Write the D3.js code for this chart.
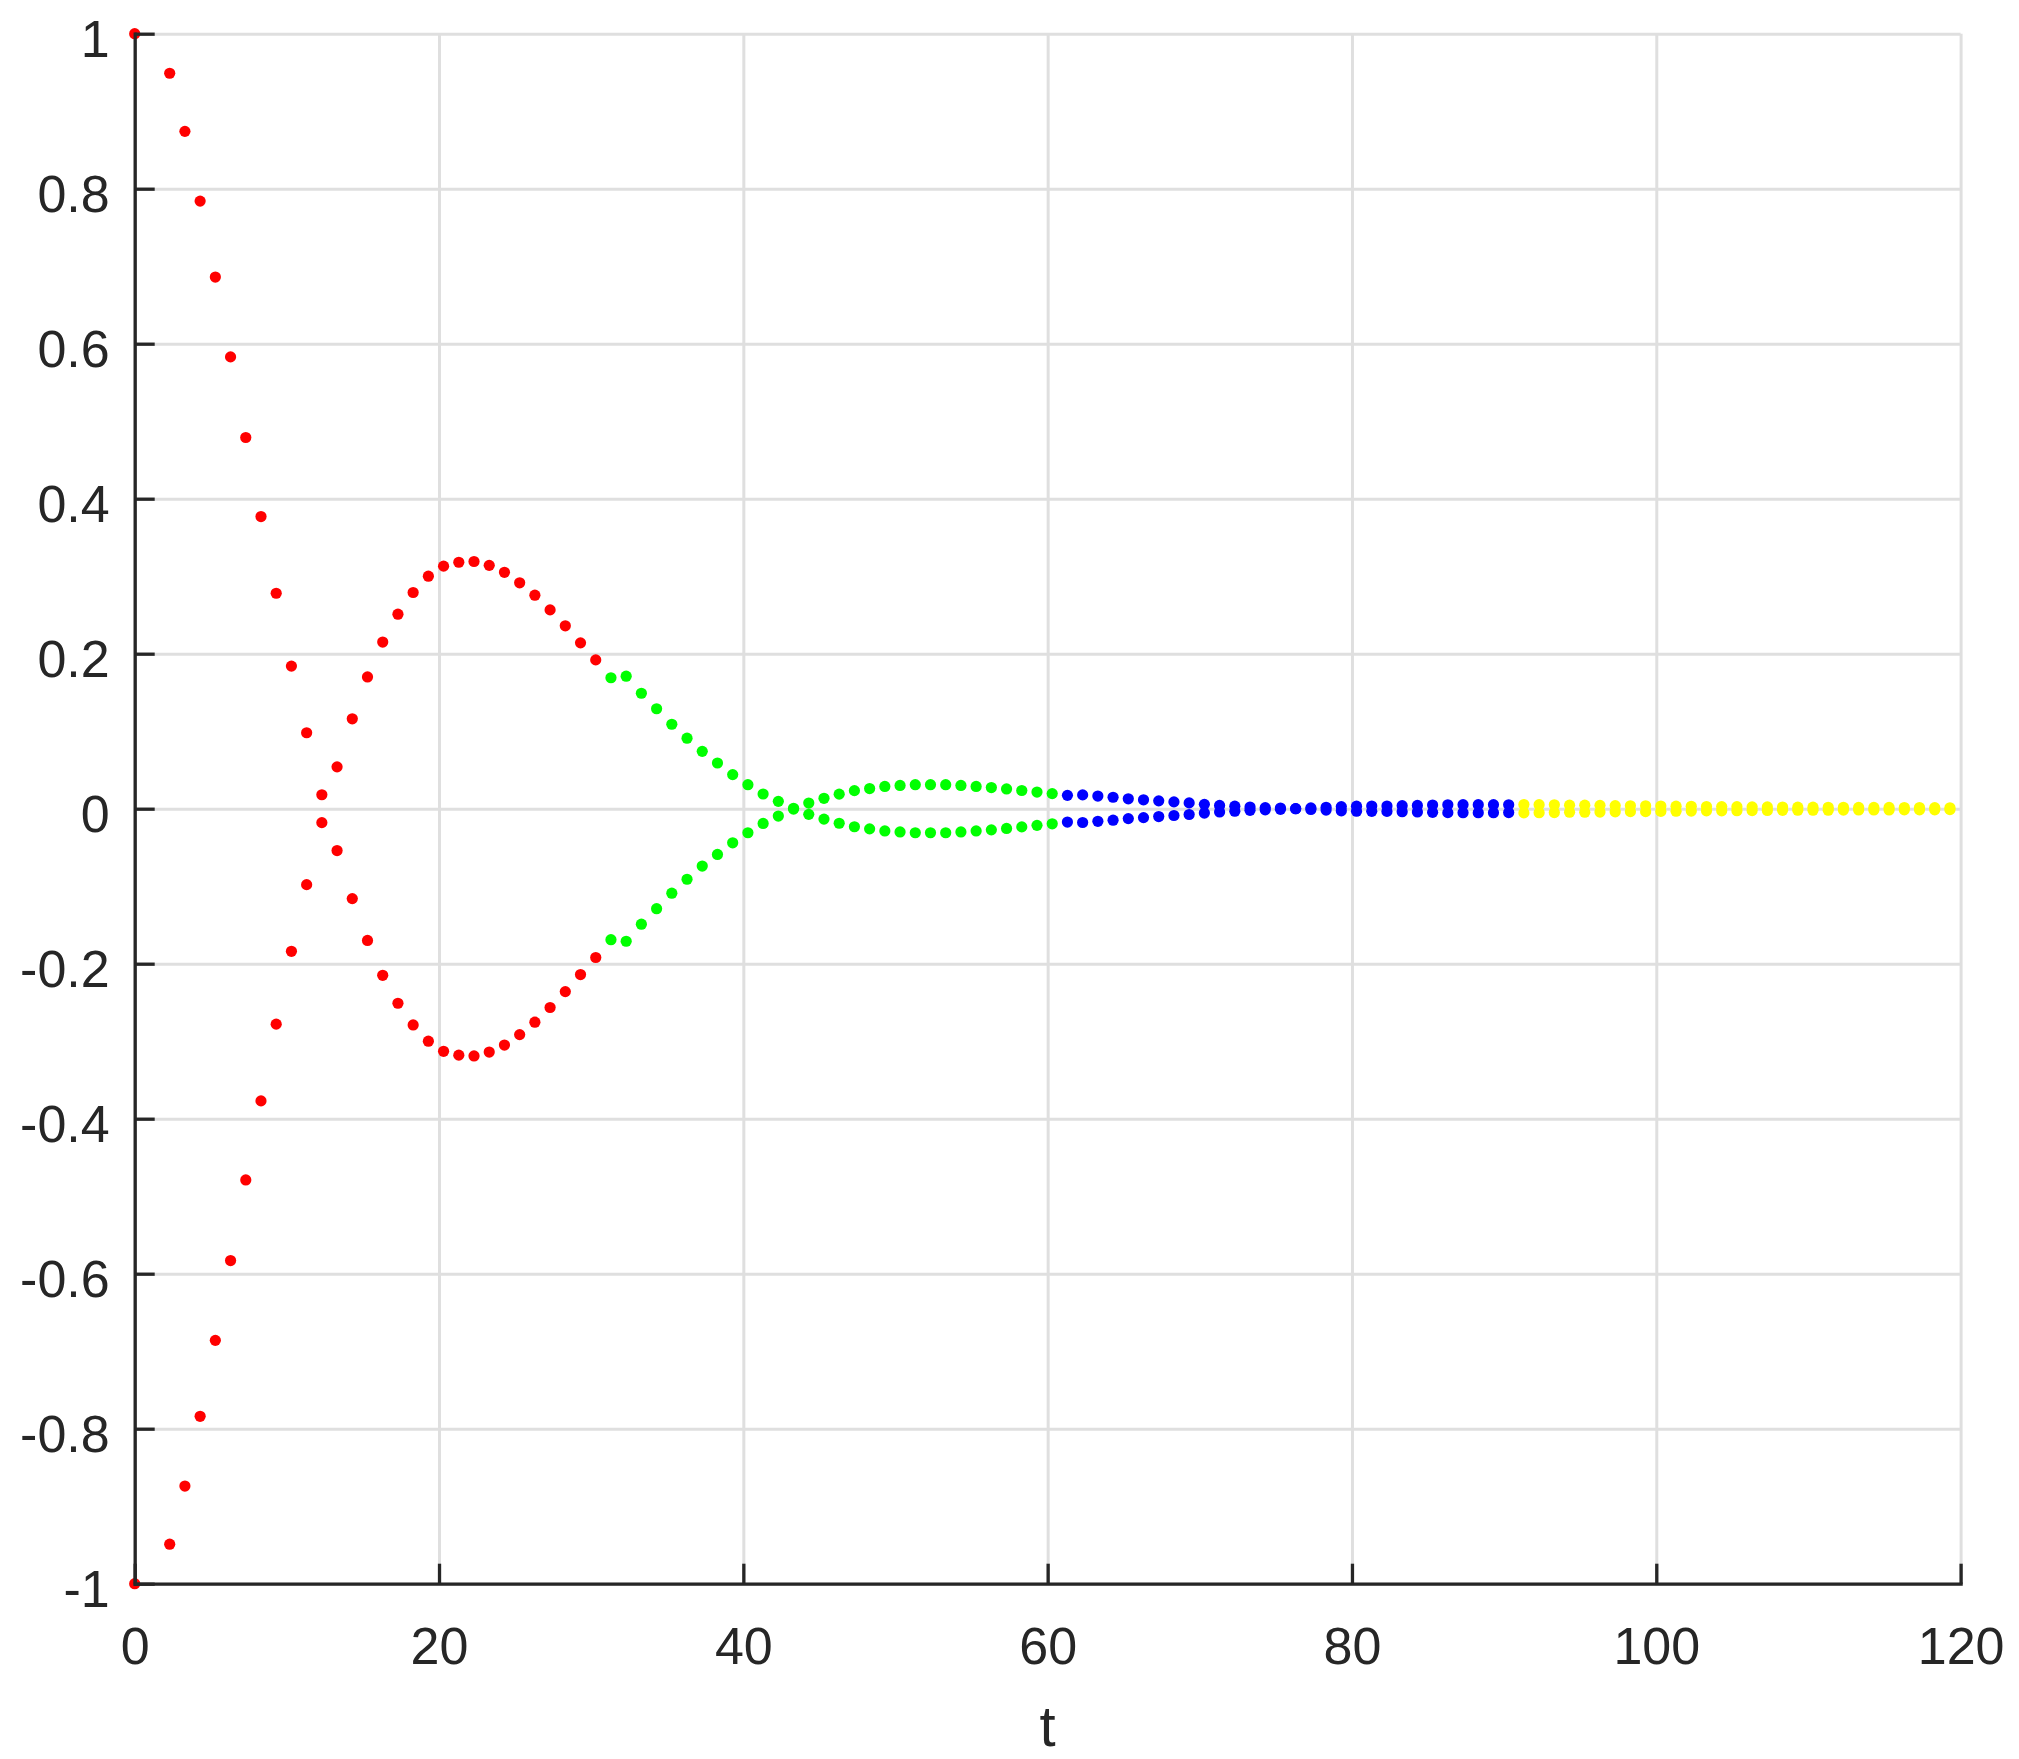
<!DOCTYPE html>
<html>
<head>
<meta charset="utf-8">
<script src="https://cdn.jsdelivr.net/npm/d3@7"></script>
<style>
  html, body { margin: 0; padding: 0; background: #fff; }
  svg text { font-family: "Liberation Sans", Arial, Helvetica, sans-serif; fill: #262626; }
</style>
</head>
<body>
<svg id="chart" width="2019" height="1759"></svg>
<script>
// axis ticks
const xTicks = [0, 20, 40, 60, 80, 100, 120];
const yTicks = [-1, -0.8, -0.6, -0.4, -0.2, 0, 0.2, 0.4, 0.6, 0.8, 1];
const yTickLabels = ["-1", "-0.8", "-0.6", "-0.4", "-0.2", "0", "0.2", "0.4", "0.6", "0.8", "1"];

// time samples of each segment
const tRed = [0, 2.3, 3.3, 4.3, 5.3, 6.3, 7.3, 8.3, 9.3, 10.3, 11.3, 12.3, 13.3, 14.3, 15.3,
  16.3, 17.3, 18.3, 19.3, 20.3, 21.3, 22.3, 23.3, 24.3, 25.3, 26.3, 27.3, 28.3, 29.3, 30.3];
const tGreen = [31.3, 32.3, 33.3, 34.3, 35.3, 36.3, 37.3, 38.3, 39.3, 40.3, 41.3, 42.3, 43.3, 44.3, 45.3,
  46.3, 47.3, 48.3, 49.3, 50.3, 51.3, 52.3, 53.3, 54.3, 55.3, 56.3, 57.3, 58.3, 59.3, 60.3];
const tBlue = [61.3, 62.3, 63.3, 64.3, 65.3, 66.3, 67.3, 68.3, 69.3, 70.3, 71.3, 72.3, 73.3, 74.3, 75.3,
  76.3, 77.3, 78.3, 79.3, 80.3, 81.3, 82.3, 83.3, 84.3, 85.3, 86.3, 87.3, 88.3, 89.3, 90.3];
const tYellow = [91.3, 92.3, 93.3, 94.3, 95.3, 96.3, 97.3, 98.3, 99.3, 100.3, 101.3, 102.3, 103.3, 104.3, 105.3,
  106.3, 107.3, 108.3, 109.3, 110.3, 111.3, 112.3, 113.3, 114.3, 115.3, 116.3, 117.3, 118.3, 119.3];

// amplitude of each segment (plotted as +v and -v)
const ampRed = [1, 0.949, 0.874, 0.784, 0.686, 0.583, 0.479, 0.377, 0.278, 0.184, 0.098, 0.018, 0.054, 0.116, 0.170,
  0.215, 0.251, 0.279, 0.300, 0.313, 0.318, 0.319, 0.314, 0.305, 0.2915, 0.2755, 0.2565, 0.236, 0.214, 0.192];
const ampGreen = [0.169, 0.171, 0.149, 0.129, 0.109, 0.091, 0.074, 0.059, 0.044, 0.031, 0.019, 0.0095, 0.0005, 0.0073, 0.0134,
  0.0188, 0.0233, 0.026, 0.0287, 0.030, 0.031, 0.031, 0.031, 0.030, 0.0287, 0.0273, 0.0255, 0.0235, 0.0215, 0.0195];
const ampBlue = [0.0172, 0.0178, 0.0163, 0.0148, 0.0128, 0.0115, 0.0101, 0.0088, 0.0075, 0.0056, 0.0042, 0.0032, 0.0021, 0.0014, 0.0008,
  0.0, 0.001, 0.0018, 0.0027, 0.0032, 0.0034, 0.0035, 0.0039, 0.0042, 0.0047, 0.0051, 0.0052, 0.0052, 0.0052, 0.0050];
const ampYellow = [0.0054, 0.0052, 0.0050, 0.0046, 0.0045, 0.0043, 0.0040, 0.0038, 0.0038, 0.0035, 0.0032, 0.0031, 0.0028, 0.0027, 0.0026,
  0.0024, 0.0023, 0.0021, 0.0020, 0.0020, 0.0019, 0.0018, 0.0017, 0.0016, 0.0016, 0.0015, 0.0015, 0.0014, 0.0012];

const segments = [
  { t: tRed, amp: ampRed, color: "#ff0000" },
  { t: tGreen, amp: ampGreen, color: "#00ff00" },
  { t: tBlue, amp: ampBlue, color: "#0000ff" },
  { t: tYellow, amp: ampYellow, color: "#ffff00" }
];

const plot = { left: 134.7, right: 1960.6, top: 33.7, bottom: 1583.7 };
const axisColor = "#262626";

const xScale = d3.scaleLinear().domain([0, 120]).range([plot.left, plot.right]);
const yScale = d3.scaleLinear().domain([-1, 1]).range([plot.bottom, plot.top]);

const svg = d3.select("#chart");
svg.append("rect").attr("width", 2019).attr("height", 1759).attr("fill", "#fff");

// grid
const gridX = svg.append("g")
  .attr("transform", `translate(0,${plot.bottom})`)
  .call(d3.axisBottom(xScale).tickValues(xTicks).tickSize(-(plot.bottom - plot.top)).tickFormat(""));
const gridY = svg.append("g")
  .attr("transform", `translate(${plot.left},0)`)
  .call(d3.axisLeft(yScale).tickValues(yTicks).tickSize(-(plot.right - plot.left)).tickFormat(""));
[gridX, gridY].forEach(g => {
  g.select(".domain").remove();
  g.selectAll("line").attr("stroke", "#dfdfdf").attr("stroke-width", 3);
});

// points
segments.forEach(s => {
  const pts = [];
  s.t.forEach((t, i) => {
    pts.push([t, s.amp[i]]);
    pts.push([t, -s.amp[i]]);
  });
  svg.append("g")
    .selectAll("circle")
    .data(pts)
    .join("circle")
    .attr("cx", d => xScale(d[0]))
    .attr("cy", d => yScale(d[1]))
    .attr("r", 5.6)
    .attr("fill", s.color);
});

// axes
const xAxis = svg.append("g")
  .attr("transform", `translate(0,${plot.bottom})`)
  .call(d3.axisBottom(xScale).tickValues(xTicks).tickSizeInner(-20).tickSizeOuter(0).tickPadding(43).tickFormat(d3.format("d")));
const yAxis = svg.append("g")
  .attr("transform", `translate(${plot.left},0)`)
  .call(d3.axisLeft(yScale).tickValues(yTicks).tickSizeInner(-20).tickSizeOuter(0).tickPadding(25)
    .tickFormat((d, i) => yTickLabels[i]));

[xAxis, yAxis].forEach(g => {
  g.select(".domain").attr("stroke", axisColor).attr("stroke-width", 3.3).attr("stroke-linecap", "square");
  g.selectAll(".tick line").attr("stroke", axisColor).attr("stroke-width", 3.3);
  g.selectAll("text")
    .attr("font-family", "'Liberation Sans', Arial, Helvetica, sans-serif")
    .attr("font-size", 52)
    .attr("fill", axisColor);
});
yAxis.selectAll("text").attr("dy", "0.44em");

// axis label
svg.append("text")
  .attr("x", (plot.left + plot.right) / 2)
  .attr("y", 1746)
  .attr("text-anchor", "middle")
  .attr("font-size", 58)
  .text("t");
</script>
</body>
</html>
